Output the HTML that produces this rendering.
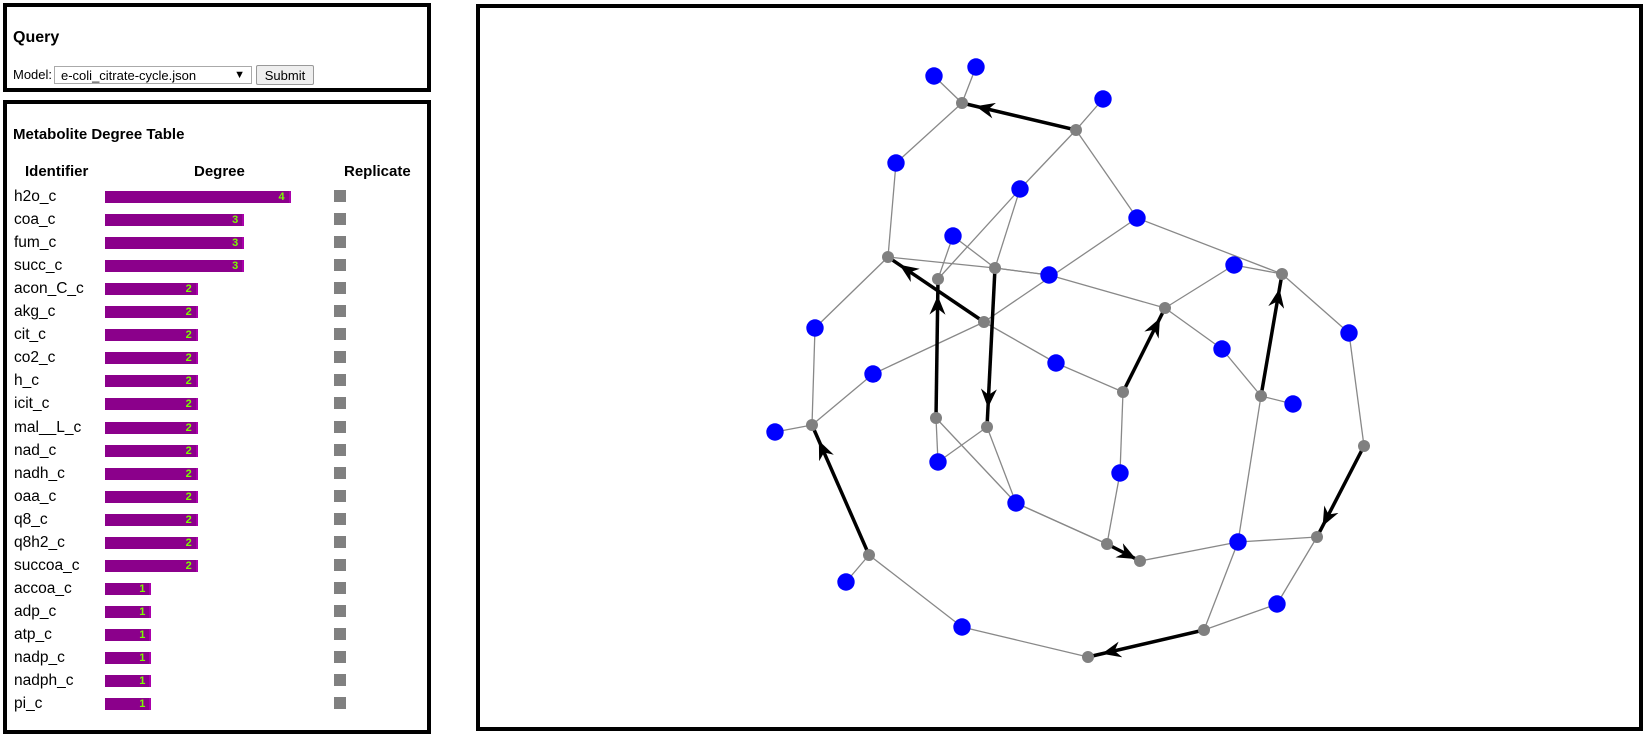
<!DOCTYPE html>
<html><head><meta charset="utf-8"><style>
body{margin:0;width:1649px;height:737px;overflow:hidden;background:#fff;font-family:"Liberation Sans",Arial,sans-serif;position:relative}
.box{position:absolute;border:4px solid #000;box-sizing:border-box;background:#fff}
.t{position:absolute;white-space:nowrap}
</style></head><body>
<div class="box" style="left:3px;top:3px;width:428px;height:89px">
 <div class="t" style="left:6px;top:22px;font-weight:bold;font-size:16px">Query</div>
 <div class="t" style="left:6px;top:60px;font-size:13px">Model:</div>
 <div class="t" style="left:47px;top:59px;border:1px solid #aaa;font-size:13px;line-height:17px;padding-left:6px;box-sizing:border-box;width:198px;height:18px">e-coli_citrate-cycle.json<span style="position:absolute;right:6px;font-size:11px">▼</span></div>
 <div class="t" style="left:249px;top:58px;width:58px;height:20px;border:1px solid #999;background:#eee;font-size:13px;line-height:19px;text-align:center;box-sizing:border-box;border-radius:2px">Submit</div>
</div>
<div class="box" style="left:3px;top:100px;width:428px;height:634px">
 <div class="t" style="left:6px;top:22px;font-weight:bold;font-size:15px">Metabolite Degree Table</div>
 <div class="t" style="left:18px;top:59px;font-weight:bold;font-size:15px">Identifier</div>
 <div class="t" style="left:187px;top:59px;font-weight:bold;font-size:15px">Degree</div>
 <div class="t" style="left:337px;top:59px;font-weight:bold;font-size:15px">Replicate</div>
 <div id="rows"></div>
</div>
<div class="box" style="left:476px;top:4px;width:1167px;height:727px"></div>
<svg id="g" width="1649" height="737" style="position:absolute;left:0;top:0">
 <defs><marker id="ah" viewBox="0 0 19 16" refX="19" refY="8" markerWidth="19" markerHeight="16" markerUnits="userSpaceOnUse" orient="auto"><path d="M0,0 L19,8 L0,16 L6,8 Z" fill="#000"/></marker></defs>
</svg>
<script>
const metabolites=["h2o_c","coa_c","fum_c","succ_c","acon_C_c","akg_c","cit_c","co2_c","h_c","icit_c","mal__L_c","nad_c","nadh_c","oaa_c","q8_c","q8h2_c","succoa_c","accoa_c","adp_c","atp_c","nadp_c","nadph_c","pi_c"];
const degrees=[4,3,3,3,2,2,2,2,2,2,2,2,2,2,2,2,2,1,1,1,1,1,1];
const rows=document.getElementById('rows');
metabolites.forEach((m,i)=>{
 const y=84+i*23.05;
 const r=document.createElement('div');
 
 
 r.innerHTML=`<div class="t" style="left:7px;top:${y}px;font-size:15.5px">${m}</div>`+
 `<div class="t" style="left:98px;top:${y+3}px;width:${degrees[i]*46.4}px;height:12px;background:#8b008b;border-right:2px solid #a0a;box-sizing:border-box;color:#7cfc00;font-size:11px;font-weight:bold;text-align:right;line-height:13px;padding-right:4px">${degrees[i]}</div>`+
 `<div class="t" style="left:327px;top:${y+2}px;width:12px;height:12px;background:#808080"></div>`;
 rows.appendChild(r);
});
const nodeIds=["g1","g2","g3","g4","g5","g6","g7","g8","g9","g10","g11","g12","g13","g14","g15","g16","g17","g18","g19","g20",
"b1","b2","b3","b4","b5","b6","b7","b8","b9","b10","b11","b12","b13","b14","b15","b16","b17","b18","b19","b20","b21","b22","b23"];
const nodeX=[962,1076,888,995,938,984,1282,1165,1123,1261,812,936,987,1364,1107,1140,1317,869,1204,1088,
934,976,1103,896,1020,1137,953,1049,1234,815,1349,1222,873,1056,1293,775,938,1120,1016,1238,846,962,1277];
const nodeY=[103,130,257,268,279,322,274,308,392,396,425,418,427,446,544,561,537,555,630,657,
76,67,99,163,189,218,236,275,265,328,333,349,374,363,404,432,462,473,503,542,582,627,604];
const edgeFrom=["g1","g1","g1","g2","g2","g2","b5","b5","b4","g3","g3","g4","b7","b7","b6","b8","b8","b9","b9","b6","g7","g8","b12","g10","g10","b14","g9","b18","b19","b20","b20","b11","b10","g11","b13","b16","g18","g18","b22","g12","g12","g13","g13","g6","b19","b20","g17","b23"];
const edgeTo=["b1","b2","b4","b3","b5","b6","g5","g4","g3","b10","g4","b8","g5","g4","g6","g8","g4","g8","g7","g7","b11","b12","g10","b15","b20","g9","b18","g15","g15","g16","g17","g14","g11","b13","g6","g11","b21","b22","g20","b17","b19","b17","b19","b14","g15","g19","b23","g19"];
const arrowFrom=["g2","g6","g12","g4","g18","g9","g10","g14","g15","g19"];
const arrowTo=["g1","g3","g5","g13","g11","g8","g7","g17","g16","g20"];
const svg=document.getElementById('g');const NS='http://www.w3.org/2000/svg';
const P=id=>{const i=nodeIds.indexOf(id);return [nodeX[i],nodeY[i]];};
edgeFrom.forEach((f,i)=>{const a=P(f),b=P(edgeTo[i]);const l=document.createElementNS(NS,'line');
 l.setAttribute('x1',a[0]);l.setAttribute('y1',a[1]);l.setAttribute('x2',b[0]);l.setAttribute('y2',b[1]);
 l.setAttribute('stroke','#888');l.setAttribute('stroke-width','1.3');
 
 
 svg.appendChild(l);});
arrowFrom.forEach((f,i)=>{const a=P(f),b=P(arrowTo[i]);const dx=b[0]-a[0],dy=b[1]-a[1],L=Math.hypot(dx,dy);
 const off=Math.min(22,L*0.12);const tx=b[0]-dx/L*off,ty=b[1]-dy/L*off;
 const l=document.createElementNS(NS,'line');
 l.setAttribute('x1',a[0]);l.setAttribute('y1',a[1]);l.setAttribute('x2',b[0]);l.setAttribute('y2',b[1]);
 l.setAttribute('stroke','#000');l.setAttribute('stroke-width','3.5');
 
 
 svg.appendChild(l);
 const m=document.createElementNS(NS,'line');
 m.setAttribute('x1',a[0]);m.setAttribute('y1',a[1]);m.setAttribute('x2',tx);m.setAttribute('y2',ty);
 m.setAttribute('stroke','none');m.setAttribute('marker-end','url(#ah)');
 
 
 svg.appendChild(m);});
nodeIds.forEach((id,i)=>{const c=document.createElementNS(NS,'circle');const blue=id[0]==='b';
 c.setAttribute('cx',nodeX[i]);c.setAttribute('cy',nodeY[i]);c.setAttribute('r',blue?8.7:6);c.setAttribute('fill',blue?'#0000ff':'#808080');
 
 
 svg.appendChild(c);});
</script>
</body></html>
